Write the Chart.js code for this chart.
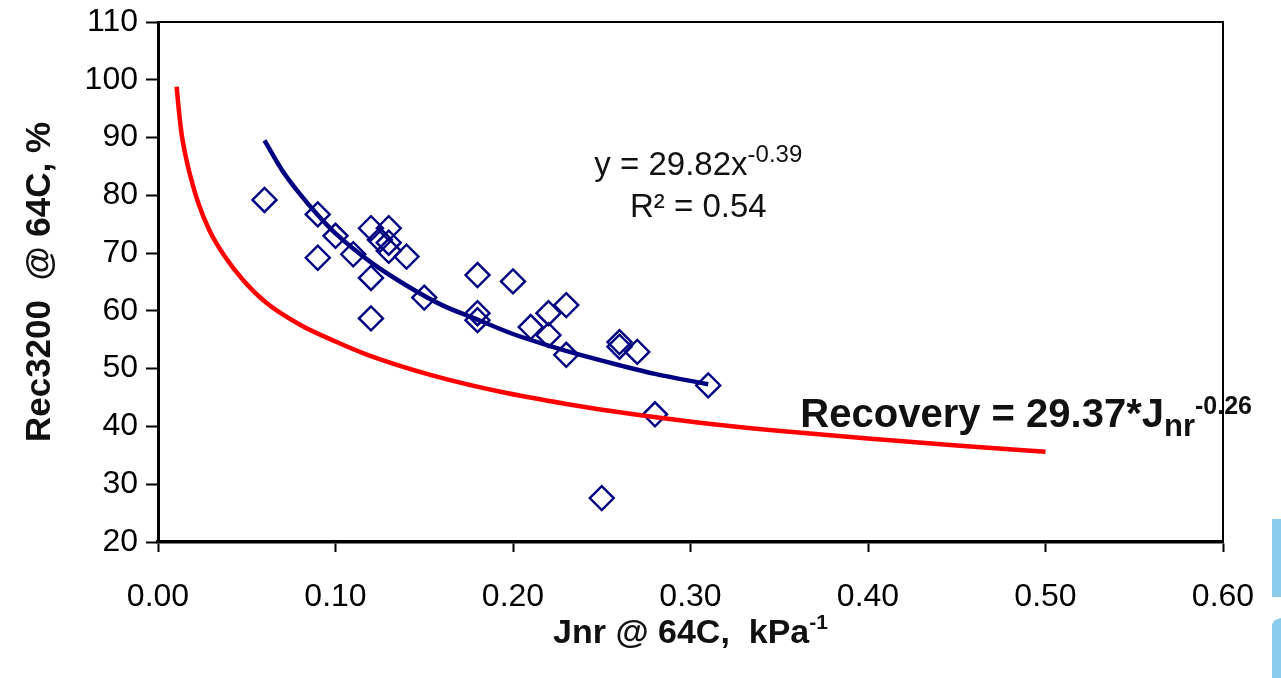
<!DOCTYPE html>
<html>
<head>
<meta charset="utf-8">
<script src="https://cdn.jsdelivr.net/npm/chart.js@4.4.1/dist/chart.umd.min.js"></script>
<style>
  html, body { margin: 0; padding: 0; background: #ffffff; }
  #wrap { width: 1281px; height: 678px; position: relative; }
  canvas { display: block; }
</style>
</head>
<body>
<div id="wrap"><canvas id="c" width="1281" height="678"></canvas></div>
<script>
// ---- data ----
const measuredJnr = [0.06, 0.09, 0.09, 0.10, 0.11, 0.12, 0.12, 0.12, 0.125, 0.13, 0.13, 0.13, 0.14, 0.15,
                     0.18, 0.18, 0.18, 0.20, 0.21, 0.22, 0.22, 0.23, 0.23, 0.26, 0.26, 0.27, 0.28, 0.25, 0.31];
const measuredRec = [79.2, 76.7, 69.2, 73.0, 69.8, 74.3, 65.7, 58.7, 72.3, 74.3, 71.8, 70.4, 69.4, 62.3,
                     66.2, 59.6, 58.4, 65.1, 57.2, 59.6, 55.8, 61.0, 52.4, 54.6, 53.8, 52.9, 42.1, 27.6, 47.1];

// blue trend curve (y = 29.82x^-0.39)
const fitJnr = [0.06, 0.07, 0.08, 0.09, 0.10, 0.12, 0.14, 0.16, 0.18, 0.20, 0.22, 0.24, 0.26, 0.28, 0.31];
const fitRec = [89.5, 84.3, 80.2, 76.6, 73.4, 68.4, 64.4, 61.0, 58.5, 56.0, 54.0, 52.2, 50.6, 49.1, 47.3];

// red specification curve (Recovery = 29.37*Jnr^-0.26)
const specJnr = [0.0105, 0.012, 0.0135, 0.016, 0.018, 0.023, 0.029, 0.037, 0.048, 0.061, 0.080, 0.100, 0.118, 0.155,
                 0.193, 0.230, 0.268, 0.304, 0.351, 0.400, 0.450, 0.500];
const specRec = [98.8, 94.0, 90.2, 86.2, 83.6, 78.4, 73.9, 69.7, 65.3, 61.4, 57.6, 54.7, 52.4, 48.8,
                 46.0, 43.9, 42.1, 40.7, 39.2, 37.9, 36.7, 35.6];

const xTickValues = [0.00, 0.10, 0.20, 0.30, 0.40, 0.50, 0.60];
const yTickValues = [20, 30, 40, 50, 60, 70, 80, 90, 100, 110];

const xAxisTitle = 'Jnr @ 64C,  kPa';
const xAxisTitleSup = '-1';
const yAxisTitle = 'Rec3200  @ 64C, %';
const fitEquation = 'y = 29.82x';
const fitEquationSup = '-0.39';
const fitR2 = 'R² = 0.54';
const specLabel = 'Recovery = 29.37*J';
const specLabelSub = 'nr';
const specLabelSup = '-0.26';

// ---- build ----
const FAM = '"Liberation Sans", Arial, Helvetica, sans-serif';
const toXY = (xs, ys) => xs.map((x, i) => ({ x: x, y: ys[i] }));

function drawRuns(ctx, x, y, runs, align) {
  let total = 0;
  runs.forEach(r => { ctx.font = r.font; r.w = ctx.measureText(r.t).width; total += r.w; });
  let cx = align === 'center' ? x - total / 2 : x;
  ctx.textAlign = 'left';
  ctx.textBaseline = 'alphabetic';
  runs.forEach(r => { ctx.font = r.font; ctx.fillText(r.t, cx, y + (r.dy || 0)); cx += r.w; });
}

const textPlugin = {
  id: 'texts',
  afterDatasetsDraw(chart) {
    const ctx = chart.ctx;
    const xs = chart.scales.x, ys = chart.scales.y;
    ctx.save();
    ctx.fillStyle = '#111111';
    drawRuns(ctx, xs.getPixelForValue(0.3044), ys.getPixelForValue(83.6), [
      { t: fitEquation, font: '33px ' + FAM },
      { t: fitEquationSup, font: '24px ' + FAM, dy: -13 }
    ], 'center');
    drawRuns(ctx, xs.getPixelForValue(0.3044), ys.getPixelForValue(76.3), [
      { t: fitR2, font: '33px ' + FAM }
    ], 'center');
    drawRuns(ctx, xs.getPixelForValue(0.3619), ys.getPixelForValue(39.9), [
      { t: specLabel, font: 'bold 40px ' + FAM },
      { t: specLabelSub, font: 'bold 31px ' + FAM, dy: 9 },
      { t: specLabelSup, font: 'bold 25px ' + FAM, dy: -13 }
    ], 'left');
    const ca = chart.chartArea;
    drawRuns(ctx, (ca.left + ca.right) / 2, ca.bottom + 101, [
      { t: xAxisTitle, font: 'bold 34px ' + FAM },
      { t: xAxisTitleSup, font: 'bold 21px ' + FAM, dy: -14 }
    ], 'center');
    ctx.restore();
  },
  afterDraw(chart) {
    const ctx = chart.ctx;
    const ca = chart.chartArea;
    ctx.save();
    ctx.strokeStyle = '#000000';
    ctx.lineWidth = 2;
    ctx.beginPath();
    ctx.moveTo(ca.left, ca.top);
    ctx.lineTo(ca.right, ca.top);
    ctx.lineTo(ca.right, ca.bottom);
    ctx.stroke();
    // slide decoration at right edge
    ctx.fillStyle = '#8BCBEB';
    ctx.fillRect(1272, 519, 9, 78);
    ctx.beginPath();
    ctx.moveTo(1275, 620);
    ctx.lineTo(1281, 618);
    ctx.lineTo(1281, 678);
    ctx.lineTo(1272, 678);
    ctx.lineTo(1272, 624);
    ctx.closePath();
    ctx.fill();
    ctx.restore();
  }
};

const tickFont = { family: FAM, size: 32 };

new Chart(document.getElementById('c'), {
  type: 'scatter',
  data: {
    datasets: [
      {
        label: 'Measured',
        data: toXY(measuredJnr, measuredRec),
        showLine: false,
        pointStyle: 'rectRot',
        pointRadius: 12,
        pointBorderWidth: 2.4,
        pointBorderColor: '#000080',
        pointBackgroundColor: 'rgba(0,0,0,0)',
        order: 3
      },
      {
        label: 'Power fit',
        data: toXY(fitJnr, fitRec),
        showLine: true,
        borderColor: '#000080',
        borderWidth: 4.5,
        pointRadius: 0,
        cubicInterpolationMode: 'monotone',
        order: 2
      },
      {
        label: 'Specification',
        data: toXY(specJnr, specRec),
        showLine: true,
        borderColor: '#FF0000',
        borderWidth: 4.5,
        pointRadius: 0,
        cubicInterpolationMode: 'monotone',
        order: 1
      }
    ]
  },
  options: {
    responsive: false,
    animation: false,
    devicePixelRatio: 1,
    layout: { padding: { top: 22, right: 58, left: 0, bottom: 0 } },
    plugins: { legend: { display: false }, tooltip: { enabled: false } },
    scales: {
      x: {
        type: 'linear',
        min: 0, max: 0.6,
        afterBuildTicks: s => { s.ticks = xTickValues.map(v => ({ value: v })); },
        afterFit: s => { s.height = 136; s.paddingLeft = 0; s.paddingRight = 0; },
        ticks: { font: tickFont, color: '#000', padding: 26, maxRotation: 0,
                 callback: v => Number(v).toFixed(2) },
        grid: { drawOnChartArea: false, drawTicks: true, tickLength: 10, tickColor: '#000', tickWidth: 2 },
        border: { display: true, color: '#000', width: 3.5 }
      },
      y: {
        type: 'linear',
        min: 20, max: 110,
        afterBuildTicks: s => { s.ticks = yTickValues.map(v => ({ value: v })); },
        afterFit: s => { s.width = 158; s.paddingTop = 0; s.paddingBottom = 0; },
        ticks: { font: tickFont, color: '#000', padding: 8, callback: v => String(v) },
        grid: { drawOnChartArea: false, drawTicks: true, tickLength: 12, tickColor: '#000', tickWidth: 2 },
        border: { display: true, color: '#000', width: 3 },
        title: { display: true, text: yAxisTitle, color: '#111',
                 font: { family: FAM, size: 35, weight: 'bold' }, padding: 19 }
      }
    }
  },
  plugins: [textPlugin]
});
</script>
</body>
</html>
